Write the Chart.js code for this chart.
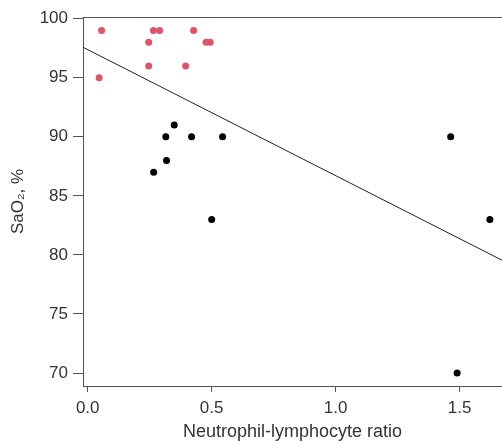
<!DOCTYPE html>
<html>
<head>
<meta charset="utf-8">
<script src="https://cdn.jsdelivr.net/npm/chart.js@4/dist/chart.umd.min.js"></script>
<style>
  html, body { margin: 0; padding: 0; background: #fff; }
  #wrap { width: 502px; height: 443px; }
</style>
</head>
<body>
<div id="wrap"><canvas id="nlrChart" width="502" height="443"></canvas></div>
<script>
// NLR vs SaO2, two groups + linear fit
const highX = [0.056, 0.046, 0.246, 0.246, 0.265, 0.29, 0.395, 0.427, 0.477, 0.494];
const highY = [99, 95, 98, 96, 99, 99, 96, 99, 98, 98];
const lowX = [0.266, 0.315, 0.318, 0.349, 0.419, 0.544, 0.5, 1.464, 1.622, 1.49];
const lowY = [87, 90, 88, 91, 90, 90, 83, 90, 83, 70];
const fitX = [-0.019, 1.671];
const fitY = [97.58, 79.55];
const xTicks = [0, 0.5, 1.0, 1.5];
const yTicks = [70, 75, 80, 85, 90, 95, 100];

const toPoints = (xs, ys) => xs.map((x, i) => ({ x, y: ys[i] }));

const family = "'Liberation Sans', Arial, sans-serif";
const tickFont = { family, size: 17 };
const titleFont = { family, size: 18 };
const axisColor = "#555";
const textColor = "#333";

new Chart(document.getElementById("nlrChart").getContext("2d"), {
  type: "scatter",
  data: {
    datasets: [
      {
        label: "high",
        data: toPoints(highX, highY),
        backgroundColor: "#DF536B",
        borderWidth: 0,
        pointRadius: 3.5,
      },
      {
        label: "low",
        data: toPoints(lowX, lowY),
        backgroundColor: "#000",
        borderWidth: 0,
        pointRadius: 3.5,
      },
      {
        label: "fit",
        type: "line",
        data: toPoints(fitX, fitY),
        borderColor: "#222",
        borderWidth: 1,
        pointRadius: 0,
        fill: false,
      },
    ],
  },
  options: {
    responsive: false,
    animation: false,
    layout: { padding: 0, autoPadding: false },
    plugins: { legend: { display: false }, tooltip: { enabled: false } },
    scales: {
      x: {
        type: "linear",
        min: -0.019,
        max: 1.671,
        afterBuildTicks: (axis) => {
          axis.ticks = xTicks.map((v) => ({ value: v }));
        },
        afterFit: (axis) => {
          axis.height = 57;
          axis.paddingLeft = 0;
          axis.paddingRight = 0;
        },
        ticks: {
          color: textColor,
          font: tickFont,
          padding: 6,
          maxRotation: 0,
          callback: (v) => Number(v).toFixed(1),
        },
        grid: {
          drawOnChartArea: false,
          drawTicks: true,
          tickLength: 6,
          color: axisColor,
        },
        border: { display: true, color: axisColor, width: 1 },
        title: {
          display: true,
          text: "Neutrophil-lymphocyte ratio",
          color: textColor,
          font: titleFont,
          padding: { top: 0, bottom: 0 },
        },
      },
      xTop: {
        type: "linear",
        position: "top",
        min: -0.019,
        max: 1.671,
        afterFit: (axis) => {
          axis.height = 17;
          axis.paddingLeft = 0;
          axis.paddingRight = 0;
        },
        ticks: { display: false },
        grid: { drawOnChartArea: false, drawTicks: false },
        border: { display: true, color: axisColor, width: 1 },
      },
      y: {
        type: "linear",
        min: 68.9,
        max: 100.14,
        afterBuildTicks: (axis) => {
          axis.ticks = yTicks.map((v) => ({ value: v }));
        },
        afterFit: (axis) => {
          axis.width = 83;
        },
        ticks: { color: textColor, font: tickFont, padding: 5 },
        grid: {
          drawOnChartArea: false,
          drawTicks: true,
          tickLength: 10,
          color: axisColor,
        },
        border: { display: true, color: axisColor, width: 1 },
        title: {
          display: true,
          text: "SaO₂, %",
          color: textColor,
          font: tickFont,
          padding: { top: 8, bottom: 0 },
        },
      },
    },
  },
});
</script>
</body>
</html>
